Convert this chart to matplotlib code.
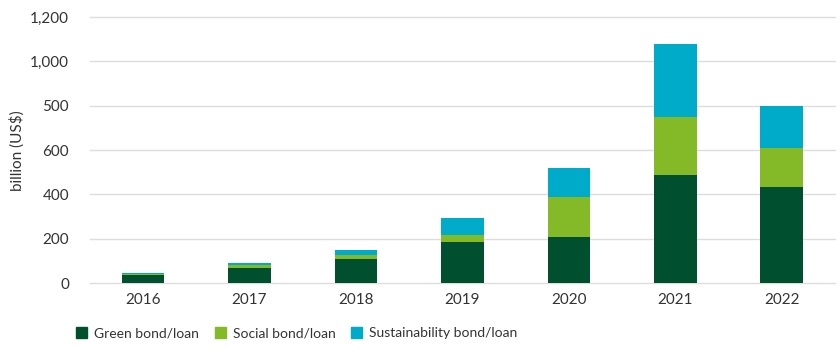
import numpy as np
import matplotlib
matplotlib.use("Agg")
import matplotlib.pyplot as plt
from matplotlib.patches import Patch

# data (billion US$)
years = ["2016", "2017", "2018", "2019", "2020", "2021", "2022"]
green = [37, 69, 109, 186, 208, 486, 432]
social = [5, 12, 20, 33, 180, 264, 177]
sustain = [5, 12, 19, 73, 132, 329, 188]

series_names = ["Green bond/loan", "Social bond/loan", "Sustainability bond/loan"]
colors = ["#004f2f", "#84b928", "#00aac9"]

# y tick labels exactly as printed in the reference
ytick_vals = [0, 200, 400, 600, 800, 1000, 1200]
ytick_labels = ["0", "200", "400", "600", "500", "1,000", "1,200"]

plt.rcParams['font.family'] = ['Lato', 'DejaVu Sans']
text_col = "#333333"
fs = 11

fig = plt.figure(figsize=(8.4, 3.5), dpi=100)
ax = fig.add_axes([0.107, 0.191, 0.887, 0.760])

x = np.arange(len(years))
w = 0.40
g = np.array(green)
s = np.array(social)
u = np.array(sustain)
ax.bar(x, g, w, color=colors[0], zorder=3)
ax.bar(x, s, w, bottom=g, color=colors[1], zorder=3)
ax.bar(x, u, w, bottom=g + s, color=colors[2], zorder=3)

ax.set_xlim(-0.5, len(years) - 0.5)
ax.set_ylim(0, 1200)
ax.set_xticks(x)
ax.set_xticklabels(years)
ax.set_yticks(ytick_vals)
ax.set_yticklabels(ytick_labels)
ax.tick_params(axis='both', length=0, labelsize=fs, colors=text_col)
ax.tick_params(axis='y', pad=15)
ax.tick_params(axis='x', pad=7)

ax.grid(axis='y', color='#dddddd', lw=1, zorder=0)
for ln in ax.get_ygridlines():
    ln.set_clip_on(False)
for sp in ax.spines.values():
    sp.set_visible(False)

ax.set_ylabel("billion (US$)", fontsize=fs, color=text_col, labelpad=4)

handles = [Patch(color=c) for c in colors]
fig.legend(handles, series_names, loc='lower left', bbox_to_anchor=(0.076, -0.005),
           ncol=3, frameon=False, fontsize=10, labelcolor=text_col,
           handlelength=0.8, handleheight=0.8, handletextpad=0.5,
           columnspacing=1.1)

fig.savefig("out.png", dpi=100)
